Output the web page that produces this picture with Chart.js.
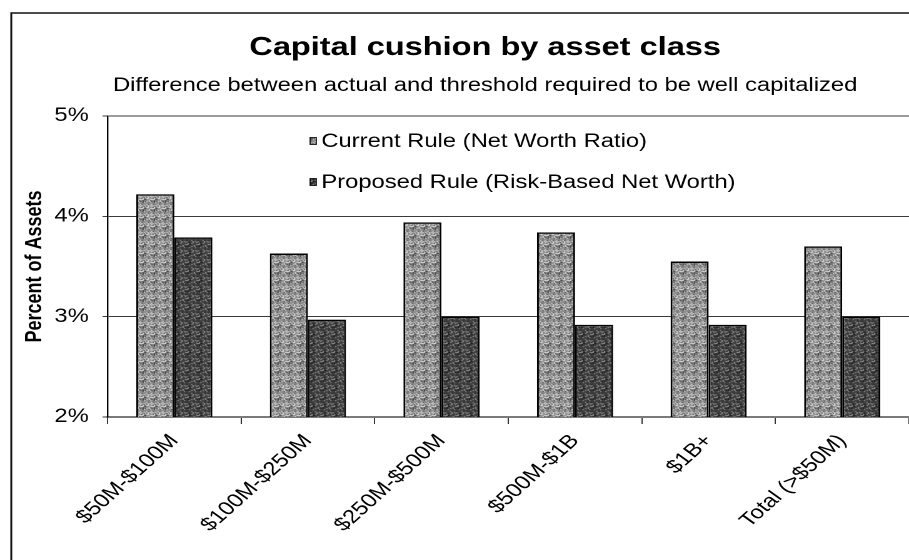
<!DOCTYPE html>
<html lang="en">
<head>
    <meta charset="UTF-8">
    <title>Capital cushion by asset class</title>
    <script src="https://cdn.jsdelivr.net/npm/chart.js"></script>
    <style>
        html, body { margin: 0; padding: 0; background: #fff; }
        /* the original picture is stretched sideways, so the canvas is too */
        #grafico { width: 909px; height: 560px; display: block; }
    </style>
</head>
<body>
    <canvas id="grafico" width="727" height="560" style="width:909px;height:560px"></canvas>

<script>
    // Dados do gráfico
    const categorias = ['$50M-$100M', '$100M-$250M', '$250M-$500M', '$500M-$1B', '$1B+', 'Total (>$50M)'];
    const regraAtual = [4.22, 3.63, 3.94, 3.84, 3.55, 3.70];
    const regraProposta = [3.79, 2.97, 3.00, 2.92, 2.92, 3.00];
    const ticksY = [2, 3, 4, 5];

    const titulo = 'Capital cushion by asset class';
    const subtitulo = 'Difference between actual and threshold required to be well capitalized';

    const fonte = "'Liberation Sans', Arial, sans-serif";

    // textura de "meio-tom" parecida com a do scan (fixa, sem aleatório)
    function criarTextura(base, claro, escuro, limClaro, limEscuro) {
        const c = document.createElement('canvas');
        c.width = 9;
        c.height = 9;
        const g = c.getContext('2d');
        for (let i = 0; i < 9; i++) {
            for (let j = 0; j < 9; j++) {
                const h = ((i * 37 + j * 91 + i * j * 13) % 17) / 17;
                g.fillStyle = h < limClaro ? claro : (h > limEscuro ? escuro : base);
                g.fillRect(i, j, 1, 1);
            }
        }
        return g.createPattern(c, 'repeat');
    }

    const texturaAtual = criarTextura('#8a8a8a', '#e6e6e6', '#3a3a3a', 0.22, 0.82);
    const texturaProposta = criarTextura('#3e3e3e', '#9a9a9a', '#151515', 0.14, 0.85);

    // moldura, titulo e legenda desenhados à mão
    const desenhoExtra = {
        id: 'desenhoExtra',
        beforeDraw(chart) {
            const ctx = chart.ctx;
            ctx.save();
            ctx.fillStyle = '#fff';
            ctx.fillRect(0, 0, chart.width, chart.height);
            ctx.strokeStyle = '#111';
            ctx.lineWidth = 1.5;
            ctx.beginPath();
            ctx.moveTo(9, chart.height + 5);
            ctx.lineTo(9, 13);
            ctx.lineTo(chart.width + 5, 13);
            ctx.stroke();
            ctx.restore();
        },
        afterDraw(chart) {
            const ctx = chart.ctx;
            ctx.save();
            ctx.fillStyle = '#000';
            ctx.textAlign = 'center';
            ctx.textBaseline = 'alphabetic';
            ctx.font = 'bold 26px ' + fonte;
            ctx.fillText(titulo, 388, 55);
            ctx.font = '19px ' + fonte;
            ctx.fillText(subtitulo, 388, 91);

            // legenda
            const ys = [141, 182];
            chart.data.datasets.forEach(function (ds, i) {
                ctx.fillStyle = ds.backgroundColor;
                ctx.fillRect(248, ys[i] - 3.5, 5, 7);
                ctx.strokeStyle = '#000';
                ctx.lineWidth = 0.8;
                ctx.strokeRect(248, ys[i] - 3.5, 5, 7);
                ctx.fillStyle = '#000';
                ctx.textAlign = 'left';
                ctx.textBaseline = 'middle';
                ctx.font = '19px ' + fonte;
                ctx.fillText(ds.label, 257, ys[i] + 1);
            });
            ctx.restore();
        }
    };

    const config = {
        type: 'bar',
        data: {
            labels: categorias,
            datasets: [
                {
                    label: 'Current Rule (Net Worth Ratio)',
                    data: regraAtual,
                    backgroundColor: texturaAtual,
                    borderColor: '#000',
                    borderWidth: 1.5
                },
                {
                    label: 'Proposed Rule (Risk-Based Net Worth)',
                    data: regraProposta,
                    backgroundColor: texturaProposta,
                    borderColor: '#000',
                    borderWidth: 1.5
                }
            ]
        },
        plugins: [desenhoExtra],
        options: {
            responsive: false,
            devicePixelRatio: 2,
            animation: false,
            categoryPercentage: 0.57,
            barPercentage: 1,
            layout: {
                padding: { top: 116, left: 0, right: 0, bottom: 0 }
            },
            plugins: {
                legend: { display: false },
                title: { display: false },
                tooltip: { enabled: false }
            },
            scales: {
                x: {
                    afterFit: function (s) { s.height = 143; },
                    border: { color: '#7a7a7a', width: 2 },
                    grid: {
                        drawOnChartArea: false,
                        drawTicks: true,
                        tickLength: 7,
                        color: '#333'
                    },
                    ticks: {
                        color: '#000',
                        autoSkip: false,
                        minRotation: 48,
                        maxRotation: 48,
                        padding: 6,
                        font: { size: 19, family: fonte }
                    }
                },
                y: {
                    min: 2,
                    max: 5,
                    afterFit: function (s) { s.width = 86; },
                    afterBuildTicks: function (s) {
                        s.ticks = ticksY.map(function (v) { return { value: v }; });
                    },
                    border: { color: '#000', width: 1.2 },
                    grid: {
                        color: '#3a3a3a',
                        lineWidth: 1,
                        tickLength: 4
                    },
                    ticks: {
                        color: '#000',
                        padding: 11,
                        font: { size: 19, family: fonte },
                        callback: function (v) { return v + '%'; }
                    },
                    title: {
                        display: true,
                        text: 'Percent of Assets',
                        color: '#000',
                        padding: { top: 17, bottom: 0 },
                        font: { size: 18, weight: 'bold', family: fonte }
                    }
                }
            }
        }
    };

    const grafico = new Chart(document.getElementById('grafico'), config);
</script>
</body>
</html>
